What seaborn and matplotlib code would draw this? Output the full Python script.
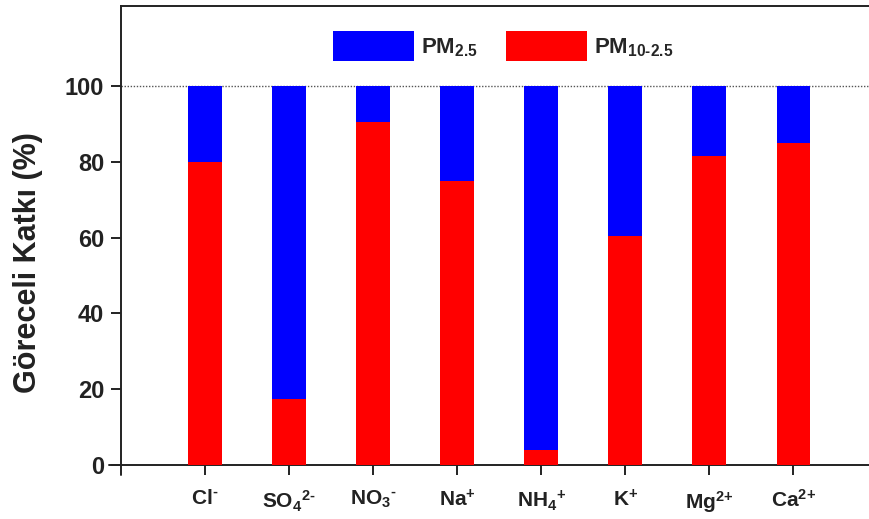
import matplotlib
matplotlib.use("Agg")
import matplotlib.pyplot as plt
import matplotlib.patches as mpatches
import seaborn as sns
import pandas as pd

# Ion species and their relative contribution (%) in each size fraction
ions = [r"Cl$^{\text{-}}$", r"SO$_{4}$$^{\text{2-}}$", r"NO$_{3}$$^{\text{-}}$",
        r"Na$^{\text{+}}$", r"NH$_{4}$$^{\text{+}}$", r"K$^{\text{+}}$",
        r"Mg$^{\text{2+}}$", r"Ca$^{\text{2+}}$"]
pm_coarse = [80.0, 17.5, 90.5, 75.0, 4.0, 60.5, 81.5, 85.0]   # PM10-2.5
pm_fine = [20.0, 82.5, 9.5, 25.0, 96.0, 39.5, 18.5, 15.0]      # PM2.5
yticks = [0, 20, 40, 60, 80, 100]

blue = "#0000FF"
red = "#FF0000"
ink = "#222222"

sns.set_theme(style="white")
plt.rcParams["font.family"] = ["Liberation Sans", "DejaVu Sans"]
plt.rcParams["font.weight"] = "bold"
plt.rcParams["mathtext.fontset"] = "custom"
plt.rcParams["mathtext.rm"] = "Liberation Sans:bold"
plt.rcParams["mathtext.it"] = "Liberation Sans:bold"
plt.rcParams["mathtext.bf"] = "Liberation Sans:bold"
plt.rcParams["mathtext.sf"] = "Liberation Sans:bold"

df = pd.DataFrame({
    "ion": ions,
    "coarse": pm_coarse,
    "fine": pm_fine,
})
df["total"] = df["coarse"] + df["fine"]

fig = plt.figure(figsize=(8.69, 5.19), dpi=100)
ax = fig.add_axes([0.1392, 0.104, 0.8608, 0.884])

# Stacked bars: full stack in blue, coarse fraction in red drawn over it
sns.barplot(data=df, x="ion", y="total", color=blue, saturation=1,
            width=0.4, linewidth=0, ax=ax, zorder=2)
sns.barplot(data=df, x="ion", y="coarse", color=red, saturation=1,
            width=0.4, linewidth=0, ax=ax, zorder=3)

ax.axhline(100, color="#555555", linestyle=(0, (1, 1.2)), lw=1.0, zorder=1)

ax.set_xlim(-1.0, 7.9)
ax.set_ylim(0, 121)
ax.set_yticks(yticks)
ax.set_yticklabels([str(v) for v in yticks], fontsize=17, fontweight="bold",
                   color=ink)
ax.tick_params(axis="x", labelsize=15, colors=ink)
for lbl in ax.get_xticklabels():
    lbl.set_fontweight("bold")

ax.set_xlabel("")
ax.set_ylabel("Göreceli Katkı (%)", fontsize=22, fontweight="bold",
              color=ink)
ax.yaxis.set_label_coords(-0.104, 0.442)

for side in ["left", "bottom", "top"]:
    ax.spines[side].set_visible(True)
    ax.spines[side].set_linewidth(1.4)
    ax.spines[side].set_color(ink)
ax.spines["right"].set_visible(False)

ax.tick_params(axis="both", which="major", direction="out", length=7,
               width=1.4, color=ink, left=True, bottom=True)
ax.tick_params(axis="x", pad=10)
ax.tick_params(axis="y", pad=5)

# Short spine overhangs at the origin
ax.plot([0, 0], [0, -0.022], transform=ax.transAxes, color=ink,
        lw=1.4, clip_on=False)
ax.plot([0, -0.016], [0, 0], transform=ax.transAxes, color=ink,
        lw=1.4, clip_on=False)

handles = [mpatches.Patch(facecolor=blue, edgecolor="none", label=r"PM$_{2.5}$"),
           mpatches.Patch(facecolor=red, edgecolor="none", label=r"PM$_{10\text{-}2.5}$")]
ax.legend(handles=handles, loc="center", bbox_to_anchor=(0.511, 0.913),
          ncol=2, frameon=False, fontsize=16, handlelength=3.65,
          handleheight=1.69, handletextpad=0.3, columnspacing=1.26)

fig.savefig("out.png", dpi=100)
